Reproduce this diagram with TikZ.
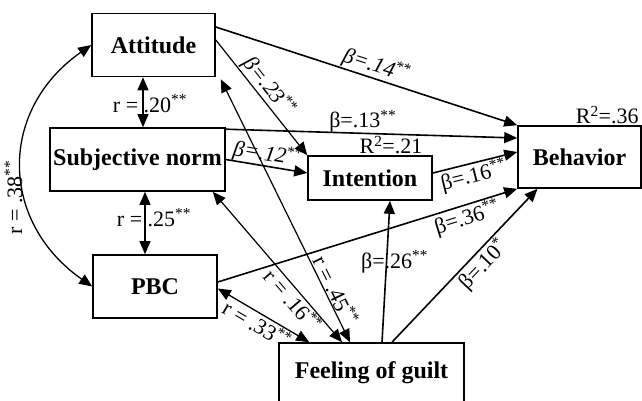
\documentclass[tikz,border=0pt]{standalone}
\usepackage{fontspec}
\setmainfont{Liberation Serif}
\usetikzlibrary{arrows.meta}

\begin{document}
\begin{tikzpicture}[x=1pt,y=-1pt,
  box/.style={draw,line width=1.6pt,minimum width=#1,minimum height=63pt,inner sep=0pt,font=\fontsize{24}{28}\selectfont\bfseries},
  arr/.style={line width=1.6pt,-{Triangle[length=13pt,width=11pt]}},
  both/.style={line width=1.3pt,{Triangle[length=13pt,width=11pt]}-{Triangle[length=13pt,width=11pt]}},
  lbl/.style={font=\fontsize{22}{26}\selectfont,inner sep=1pt}]
\clip (0,0) rectangle (642,401);
% boxes
\node[box=123pt] (att) at (153.5,45) {Attitude};
\node[box=175pt] (sn) at (137.5,159.5) {Subjective norm};
\node[box=124pt] (pbc) at (155,286.5) {PBC};
\node[box=124pt,minimum height=44pt] (int) at (370,178) {Intention};
\node[box=123pt,minimum height=62pt] (beh) at (579.5,157) {Behavior};
\node[box=185pt,minimum height=60pt] (guilt) at (371.5,373) {Feeling of guilt};
\node[lbl,anchor=south,inner sep=0pt] (r2int) at ([xshift=21pt,yshift=1pt]int.north) {R\textsuperscript{2}=.21};
\node[lbl,anchor=south east,inner sep=0pt] (r2beh) at ([xshift=-3pt,yshift=1pt]beh.north east) {R\textsuperscript{2}=.36};
% paths
\draw[arr] ([yshift=18pt]att.east) -- (beh.north west)
  node[lbl,sloped,above,pos=.52] (b14) {\textit{β=.14}\textsuperscript{**}};
\draw[arr,line width=1.2pt] ([yshift=5pt]att.east) -- (int.north west)
  node[lbl,sloped,above,pos=.475] (b23) {\textit{β=.23}\textsuperscript{**}};
\draw[arr] ([yshift=-2pt]sn.north east) -- ([yshift=19pt]beh.west)
  node[lbl,above,pos=.47,inner sep=0pt] (b13) {β=.13\textsuperscript{**}};
\draw[arr] (sn.east) -- ([yshift=5pt]int.west)
  node[lbl,sloped,above,pos=.49,inner sep=0pt] (b12) {\textit{β=.12}\textsuperscript{**}};
\draw[arr] ([yshift=5pt]int.east) -- ([yshift=5pt]beh.west)
  node[lbl,sloped,below,pos=.45] (b16) {β=.16\textsuperscript{**}};
\draw[arr] ([yshift=4.5pt]pbc.east) -- (beh.south west)
  node[lbl,sloped,below,pos=.82] (b36) {β=.36\textsuperscript{**}};
\draw[arr] ([xshift=10.5pt]guilt.north) -- ([xshift=20pt]int.south)
  node[lbl,pos=.57,xshift=8pt] (b26) {β=.26\textsuperscript{**}};
\draw[arr] ([xshift=20.5pt]guilt.north) -- ([xshift=-42pt]beh.south)
  node[lbl,sloped,below,pos=.565] (b10) {β=.10\textsuperscript{*}};
% correlations
\draw[both] ([xshift=-10.5pt]att.south) -- ([xshift=5.5pt]sn.north)
  node[lbl,pos=.53,xshift=7pt] (r20) {r = .20\textsuperscript{**}};
\draw[both] ([xshift=7.5pt]sn.south) -- ([xshift=-10pt]pbc.north)
  node[lbl,pos=.41,xshift=9pt] (r25) {r = .25\textsuperscript{**}};
\draw[both,line width=1.2pt] ([xshift=5pt,yshift=-2pt]att.south east) -- ([xshift=-21.5pt]guilt.north)
  node[lbl,sloped,above,pos=.82] (r45) {r = .45\textsuperscript{**}};
\draw[both,line width=1.2pt] ([xshift=-13pt]sn.south east) -- ([xshift=-29.5pt]guilt.north)
  node[lbl,sloped,below,pos=.68,inner sep=0pt] (r16) {r = .16\textsuperscript{**}};
\draw[both] ([yshift=-2pt]pbc.east) -- ([xshift=31pt]guilt.north west)
  node[lbl,sloped,below,pos=.49] (r33) {r = .33\textsuperscript{**}};
\draw[both] (att.west) to[out=215,in=145,looseness=1.2]
  node[lbl,rotate=90,anchor=south,pos=.62,inner sep=3pt] (r38) {r = .38\textsuperscript{**}} (pbc.west);
\end{tikzpicture}
\end{document}
